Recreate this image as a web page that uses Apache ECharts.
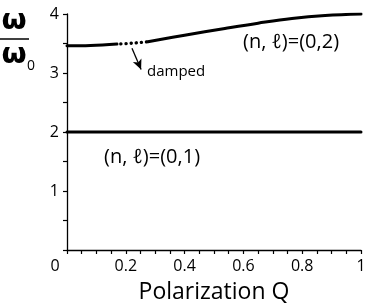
<!DOCTYPE html>
<html>
<head>
<meta charset="utf-8">
<script src="https://cdn.jsdelivr.net/npm/echarts@6/dist/echarts.min.js"></script>
<style>html,body{margin:0;padding:0;background:#fff}#c{width:368px;height:307px}</style>
</head>
<body>
<div id="c"></div>
<script>
// (0,2) branch, solid low part
var mode02Low = [[0, 3.46], [0.08, 3.465], [0.17, 3.49]];
// (0,2) branch, damped (dotted) part
var mode02Damped = [[0.17, 3.49], [0.22, 3.505], [0.275, 3.53]];
// (0,2) branch, solid upper part
var mode02High = [[0.275, 3.53], [0.4, 3.64], [0.537, 3.755], [0.65, 3.845], [0.765, 3.925], [0.878, 3.975], [1, 4.0]];
// (0,1) branch
var mode01 = [[0, 2], [0.5, 2], [1, 2]];
// arrow pointing to damped region
var arrowFrom = [0.221, 3.42];
var arrowTo = [0.252, 3.06];

var FONT = '"Open Sans", "DejaVu Sans", sans-serif';
var chart = echarts.init(document.getElementById('c'), null, {renderer: 'canvas'});

function lineSeries(data, type) {
  return {
    type: 'line', data: data, smooth: 0.4, symbol: 'none', silent: true,
    lineStyle: {color: '#000', width: type ? 3.4 : 3, type: type || 'solid', cap: 'round', dashOffset: type ? -4 : 0}
  };
}

var s1 = lineSeries(mode02Damped, [0.1, 5]);
s1.markLine = {
  silent: true, symbol: ['none', 'arrow'], symbolSize: [7, 10], label: {show: false},
  lineStyle: {color: '#000', width: 1.3, type: 'solid'},
  data: [[{coord: arrowFrom}, {coord: arrowTo}]]
};

chart.setOption({
  animation: false,
  grid: {left: 67, right: 7, top: 14, bottom: 57, outerBoundsMode: 'none', containLabel: false},
  xAxis: {
    type: 'value', min: 0, max: 1, interval: 0.2,
    axisLine: {show: true, onZero: false, lineStyle: {color: '#000', width: 1.3}},
    axisTick: {show: true, length: 4, lineStyle: {color: '#000', width: 1.2}},
    minorTick: {show: true, splitNumber: 4, length: 4, lineStyle: {color: '#000', width: 1.2}},
    splitLine: {show: false},
    axisLabel: {
      color: '#000', fontSize: 16, fontFamily: FONT, margin: 8,
      formatter: function (v) { return v === 0 ? '{z|0}' : String(Math.round(v * 10) / 10); },
      rich: {z: {fontSize: 16, fontFamily: FONT, color: '#000', padding: [0, 24, 0, 0]}}
    },
    name: 'Polarization Q', nameLocation: 'middle', nameGap: 31,
    nameTextStyle: {color: '#000', fontSize: 23, fontFamily: FONT}
  },
  yAxis: {
    type: 'value', min: 0, max: 4, interval: 1,
    axisLine: {show: true, onZero: false, lineStyle: {color: '#000', width: 1.3}},
    axisTick: {show: true, length: 4, lineStyle: {color: '#000', width: 1.2}},
    minorTick: {show: true, splitNumber: 2, length: 4, lineStyle: {color: '#000', width: 1.2}},
    splitLine: {show: false},
    axisLabel: {
      color: '#000', fontSize: 16, fontFamily: FONT, margin: 8,
      formatter: function (v) { return v === 0 ? '' : String(v); }
    }
  },
  series: [lineSeries(mode02Low), s1, lineSeries(mode02High), lineSeries(mode01)],
  graphic: [
    {type: 'text', left: 243, top: 32, style: {text: '(n, ℓ)=(0,2)', fontSize: 20, fontFamily: FONT, fill: '#000'}},
    {type: 'text', left: 104, top: 147, style: {text: '(n, ℓ)=(0,1)', fontSize: 20, fontFamily: FONT, fill: '#000'}},
    {type: 'text', left: 147, top: 64, style: {text: 'damped', fontSize: 15, fontFamily: FONT, fill: '#000'}},
    {type: 'text', x: 14, y: 21, style: {text: 'ω', fontSize: 29, fontWeight: 'bold', fontFamily: '"DejaVu Sans", sans-serif', fill: '#000', align: 'center', verticalAlign: 'middle'}},
    {type: 'line', shape: {x1: 0, y1: 39, x2: 29, y2: 39}, style: {stroke: '#000', lineWidth: 1.5}},
    {type: 'text', x: 14, y: 55, style: {text: 'ω', fontSize: 29, fontWeight: 'bold', fontFamily: '"DejaVu Sans", sans-serif', fill: '#000', align: 'center', verticalAlign: 'middle'}},
    {type: 'text', x: 31, y: 66, style: {text: '0', fontSize: 14, fontFamily: FONT, fill: '#000', align: 'center', verticalAlign: 'middle'}}
  ]
});
</script>
</body>
</html>
